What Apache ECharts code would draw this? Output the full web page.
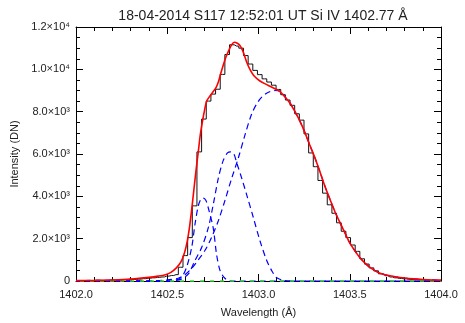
<!DOCTYPE html>
<html>
<head>
<meta charset="utf-8">
<script src="https://cdn.jsdelivr.net/npm/echarts@6/dist/echarts.min.js"></script>
<style>
html, body { margin: 0; padding: 0; background: #fff; }
#main { width: 465px; height: 323px; }
</style>
</head>
<body>
<div id="main"></div>
<script>
// observed spectrum: first bin centre, dispersion (A / pixel), counts per pixel
const binStart = 1402.038;
const binWidth = 0.0255;
const counts = [
  20, 30, 20, 40, 30, 40, 50, 40, 60, 60,
  80, 70, 90, 110, 130, 150, 170, 190, 230, 260,
  300, 650, 1200, 2050, 3550, 6100, 7650, 8500, 8830, 9060,
  9760, 10700, 11160, 11100, 11000, 10650, 10250, 9950, 9750, 9550,
  9400, 9250, 9050, 8800, 8550, 8300, 7900, 7600, 6950, 6050,
  5400, 4750, 4150, 3600, 3200, 2750, 2350, 2050, 1700, 1400,
  1050, 800, 620, 480, 340, 250, 190, 150, 120, 100,
  80, 60, 50, 40, 40, 30, 20
];

// total fit (red)
const fitWave = [1402.0, 1402.1, 1402.2, 1402.3, 1402.4, 1402.45, 1402.49, 1402.52, 1402.55, 1402.575,
  1402.595, 1402.61, 1402.622, 1402.633, 1402.643, 1402.656, 1402.67, 1402.681, 1402.692, 1402.705,
  1402.716, 1402.735, 1402.752, 1402.768, 1402.78, 1402.793, 1402.807, 1402.82, 1402.835, 1402.852,
  1402.868, 1402.884, 1402.899, 1402.915, 1402.935, 1402.953, 1402.975, 1403.008, 1403.04, 1403.063,
  1403.09, 1403.118, 1403.145, 1403.173, 1403.2, 1403.227, 1403.255, 1403.282, 1403.31, 1403.337,
  1403.365, 1403.392, 1403.42, 1403.447, 1403.475, 1403.5, 1403.53, 1403.556, 1403.585, 1403.611,
  1403.64, 1403.666, 1403.7, 1403.75, 1403.8, 1403.85, 1403.9, 1403.95, 1404.0];
const fitInt = [20, 30, 50, 90, 170, 230, 300, 410, 620, 900,
  1350, 1900, 2550, 3300, 4080, 5100, 6100, 6900, 7500, 8100,
  8500, 8750, 8950, 9150, 9400, 9800, 10200, 10550, 10850, 11150,
  11280, 11230, 11120, 10850, 10350, 10000, 9700, 9450, 9300, 9200,
  9080, 8950, 8700, 8400, 8000, 7550, 7000, 6400, 5800, 5150,
  4450, 3850, 3250, 2750, 2250, 1800, 1400, 1100, 830, 640,
  480, 370, 280, 200, 140, 100, 70, 50, 40];

// gaussian components (blue dashed)
const g1Wave = [1402.0, 1402.5, 1402.542, 1402.579, 1402.606, 1402.634, 1402.652, 1402.67, 1402.685, 1402.698,
  1402.712, 1402.725, 1402.752, 1402.77, 1402.789, 1402.81, 1402.826, 1402.86, 1404.0];
const g1Int = [0, 0, 30, 190, 650, 1590, 2680, 3550, 3880, 3920,
  3800, 3450, 2500, 1270, 500, 180, 60, 0, 0];

const g2Wave = [1402.0, 1402.5, 1402.55, 1402.579, 1402.616, 1402.652, 1402.689, 1402.725, 1402.752, 1402.78,
  1402.807, 1402.83, 1402.847, 1402.865, 1402.88, 1402.91, 1402.935, 1402.972, 1403.008, 1403.045,
  1403.075, 1403.1, 1403.14, 1403.2, 1404.0];
const g2Int = [0, 0, 30, 100, 340, 970, 1590, 2520, 3610, 4860,
  5700, 6050, 6100, 6000, 5600, 4800, 4080, 2990, 1900, 970,
  450, 150, 30, 0, 0];

const g3Wave = [1402.0, 1402.4, 1402.5, 1402.56, 1402.597, 1402.634, 1402.67, 1402.707, 1402.744, 1402.78,
  1402.816, 1402.853, 1402.889, 1402.926, 1402.963, 1403.0, 1403.04, 1403.09, 1403.12, 1403.145,
  1403.173, 1403.2, 1403.227, 1403.255, 1403.282, 1403.31, 1403.337, 1403.365, 1403.392, 1403.42,
  1403.447, 1403.475, 1403.5, 1403.53, 1403.556, 1403.585, 1403.611, 1403.64, 1403.666, 1403.7,
  1403.75, 1403.8, 1403.85, 1403.9, 1403.95, 1404.0];
const g3Int = [0, 10, 50, 130, 300, 600, 1000, 1450, 2080, 2850,
  3800, 4850, 5800, 6900, 7900, 8500, 8850, 9000, 8950, 8700,
  8400, 8000, 7550, 7000, 6400, 5800, 5150, 4450, 3850, 3250,
  2750, 2250, 1800, 1400, 1100, 830, 640, 480, 370, 280,
  200, 140, 100, 70, 50, 30];

// background (green dashed)
const bgWave = [1402.0, 1404.0];
const bgInt = [0, 0];

const yTickValues = [0, 2000, 4000, 6000, 8000, 10000, 12000];
const yTickLabels = ['0', '2.0×10³', '4.0×10³', '6.0×10³', '8.0×10³', '1.0×10⁴', '1.2×10⁴'];

const font = 'Liberation Sans';
const pairs = (xs, ys) => xs.map((x, i) => [x, ys[i]]);
const specData = counts.map((c, i) => [binStart + i * binWidth, c]);

const myChart = echarts.init(document.getElementById('main'));

const tickCommon = {
  axisLine: { show: true, onZero: false, lineStyle: { color: '#000', width: 1 } },
  axisTick: { show: true, inside: true, length: 7, lineStyle: { color: '#000' } },
  splitLine: { show: false },
};

const option = {
  animation: false,
  backgroundColor: '#fff',
  title: {
    text: '18-04-2014 S117 12:52:01 UT Si IV 1402.77 Å',
    left: 258,
    top: 4,
    textAlign: 'center',
    textStyle: { fontFamily: font, fontSize: 14, fontWeight: 'normal', color: '#222' },
  },
  grid: { left: 76, right: 24, top: 27, bottom: 39 },
  xAxis: [
    {
      type: 'value', min: 1402, max: 1404, interval: 0.5, position: 'bottom',
      ...tickCommon,
      minorTick: { show: true, splitNumber: 5, length: 4, lineStyle: { color: '#000' } },
      axisLabel: {
        margin: 8, fontFamily: font, fontSize: 11, color: '#222',
        formatter: (v) => v.toFixed(1),
      },
      name: 'Wavelength (Å)', nameLocation: 'middle', nameGap: 26,
      nameTextStyle: { fontFamily: font, fontSize: 11, color: '#222' },
    },
    {
      type: 'value', min: 1402, max: 1404, interval: 0.5, position: 'top',
      ...tickCommon,
      minorTick: { show: true, splitNumber: 5, length: 4, lineStyle: { color: '#000' } },
      axisLabel: { show: false },
    },
  ],
  yAxis: [
    {
      type: 'value', min: 0, max: 12000, interval: 2000, position: 'left',
      ...tickCommon,
      minorTick: { show: true, splitNumber: 4, length: 4, lineStyle: { color: '#000' } },
      axisLabel: {
        margin: 6, fontFamily: font, fontSize: 11, color: '#222',
        formatter: (v) => yTickLabels[yTickValues.indexOf(v)],
      },
      name: 'Intensity (DN)', nameLocation: 'middle', nameGap: 51,
      nameTextStyle: { fontFamily: font, fontSize: 11, color: '#222' },
    },
    {
      type: 'value', min: 0, max: 12000, interval: 2000, position: 'right',
      ...tickCommon,
      minorTick: { show: true, splitNumber: 4, length: 4, lineStyle: { color: '#000' } },
      axisLabel: { show: false },
    },
  ],
  series: [
    {
      name: 'spectrum', type: 'line', step: 'middle', data: specData, showSymbol: false, clip: false,
      lineStyle: { color: '#111', width: 1 },
    },
    {
      name: 'g1', type: 'line', data: pairs(g1Wave, g1Int), smooth: 0.3, showSymbol: false, clip: false,
      lineStyle: { color: '#0000ff', width: 1.2, type: [6, 4] },
    },
    {
      name: 'g2', type: 'line', data: pairs(g2Wave, g2Int), smooth: 0.3, showSymbol: false, clip: false,
      lineStyle: { color: '#0000ff', width: 1.2, type: [6, 4] },
    },
    {
      name: 'g3', type: 'line', data: pairs(g3Wave, g3Int), smooth: 0.3, showSymbol: false, clip: false,
      lineStyle: { color: '#0000ff', width: 1.2, type: [6, 4] },
    },
    {
      // drawn over the gaussian tails, dashes shifted so both colours show on the zero line
      name: 'background', type: 'line', data: pairs(bgWave, bgInt), showSymbol: false, clip: false,
      lineStyle: { color: '#3ddc3d', width: 1.6, type: [4, 6], dashOffset: 6 },
    },
    {
      name: 'fit', type: 'line', data: pairs(fitWave, fitInt), smooth: 0.3, showSymbol: false, clip: false,
      lineStyle: { color: '#ff0000', width: 1.6 },
    },
  ],
};
myChart.setOption(option);
</script>
</body>
</html>
